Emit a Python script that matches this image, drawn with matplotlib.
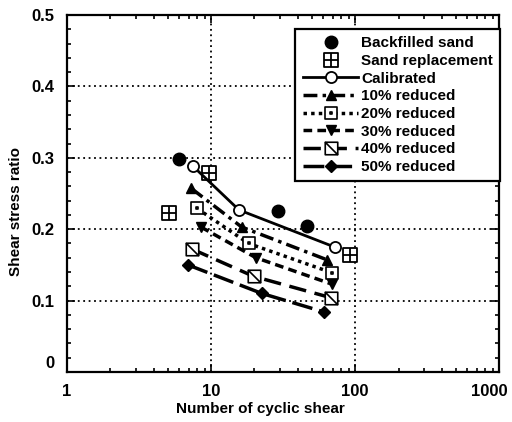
import numpy as np
import matplotlib
matplotlib.use("Agg")
import matplotlib.pyplot as plt
import matplotlib.transforms as mtransforms
from matplotlib.path import Path
from matplotlib.ticker import MultipleLocator, FixedLocator, NullFormatter

plt.rcParams['font.family'] = ['Liberation Sans', 'DejaVu Sans']
plt.rcParams['font.weight'] = 'bold'
plt.rcParams['axes.labelweight'] = 'bold'

# measured data
backfilled_x = [6.0, 29.0, 46.0]
backfilled_y = [0.298, 0.226, 0.205]
replacement_x = [5.1, 9.6, 92.0]
replacement_y = [0.223, 0.278, 0.164]

cal_x = [7.5, 15.6, 72.0]
cal_y = [0.288, 0.227, 0.175]
r10_x = [7.3, 16.3, 64.0]
r10_y = [0.257, 0.203, 0.157]
r20_x = [8.0, 18.2, 69.0]
r20_y = [0.229, 0.180, 0.139]
r30_x = [8.5, 20.5, 69.0]
r30_y = [0.203, 0.160, 0.123]
r40_x = [7.4, 19.7, 68.0]
r40_y = [0.172, 0.134, 0.104]
r50_x = [6.9, 22.5, 61.0]
r50_y = [0.150, 0.110, 0.084]

labels = ["Backfilled sand", "Sand replacement", "Calibrated", "10% reduced",
          "20% reduced", "30% reduced", "40% reduced", "50% reduced"]
xtick_vals = [1, 10, 100, 1000]
xtick_labels = ['1', '10', '100', '1000']
ytick_vals = [0, 0.1, 0.2, 0.3, 0.4, 0.5]
ytick_labels = ['0', '0.1', '0.2', '0.3', '0.4', '0.5']

# custom box markers
sq = [(-1, -1), (1, -1), (1, 1), (-1, 1), (-1, -1)]
sq_codes = [Path.MOVETO] + [Path.LINETO] * 3 + [Path.CLOSEPOLY]
box_plus = Path(sq + [(0, -1), (0, 1), (-1, 0), (1, 0)],
                sq_codes + [Path.MOVETO, Path.LINETO, Path.MOVETO, Path.LINETO])
box_slash = Path(sq + [(-1, 1), (1, -1)], sq_codes + [Path.MOVETO, Path.LINETO])
box_dot = Path(sq + [(-0.12, -0.12), (0.12, -0.12), (0.12, 0.12), (-0.12, 0.12), (-0.12, -0.12)],
               sq_codes + sq_codes)

fig = plt.figure(figsize=(5.12, 4.22), dpi=100)
ax = fig.add_axes([0.131, 0.1185, 0.844, 0.846])

ax.plot(backfilled_x, backfilled_y, 'o', color='black', ms=9, ls='none', label=labels[0])
ax.plot(replacement_x, replacement_y, marker=box_plus, ms=10, mfc='white', mec='black',
        mew=1.3, ls='none', label=labels[1])
ax.plot(cal_x, cal_y, '-', marker='o', color='black', ms=8, mfc='white', mew=1.3, lw=2,
        label=labels[2])
ax.plot(r10_x, r10_y, color='black', lw=2.5, ls=(0, (4, 1.5, 1, 1.5)), marker='^', ms=7,
        label=labels[3])
ax.plot(r20_x, r20_y, color='black', lw=2.5, ls=(0, (1, 1.2)), marker=box_dot, ms=9,
        mfc='white', mew=1.2, label=labels[4])
ax.plot(r30_x, r30_y, color='black', lw=2.5, ls=(0, (2.5, 1.5)), marker='v', ms=7,
        label=labels[5])
ax.plot(r40_x, r40_y, color='black', lw=2.5, ls=(0, (5, 2.5)), marker=box_slash, ms=9,
        mfc='white', mew=1.2, label=labels[6])
ax.plot(r50_x, r50_y, color='black', lw=2.5, ls=(0, (6, 2)), marker='D', ms=6,
        label=labels[7])

ax.set_xscale('log')
ax.set_xlim(1, 1000)
ax.set_ylim(0, 0.5)
ax.set_xticks(xtick_vals)
ax.set_xticklabels(xtick_labels)
ax.set_yticks(ytick_vals)
ax.set_yticklabels(ytick_labels)
ax.yaxis.set_minor_locator(MultipleLocator(0.02))
ax.xaxis.set_minor_locator(FixedLocator([m * 10 ** d for d in range(3) for m in range(2, 10)]))
ax.xaxis.set_minor_formatter(NullFormatter())
ax.tick_params(which='both', direction='in', top=True, right=True, labelsize=12, width=1.2)
ax.tick_params(which='major', length=6)
ax.tick_params(axis='x', which='major', pad=9)
ax.tick_params(axis='y', which='major', pad=9)
ax.tick_params(which='minor', length=3)
ax.grid(True, which='major', ls=(0, (1, 2)), color='black', lw=1.3)
for s in ax.spines.values():
    s.set_linewidth(1.6)

# small shifts like the original: "0" raised, "1000" kept inside
ax.get_yticklabels()[0].set_transform(
    ax.get_yticklabels()[0].get_transform() + mtransforms.ScaledTranslation(0, 0.1, fig.dpi_scale_trans))
ax.get_xticklabels()[-1].set_transform(
    ax.get_xticklabels()[-1].get_transform() + mtransforms.ScaledTranslation(-0.1, 0, fig.dpi_scale_trans))

ax.set_xlabel("Number of cyclic shear", fontsize=11)
ax.set_ylabel("Shear stress ratio", fontsize=11)
ax.xaxis.set_label_coords(0.447, -0.085)
ax.yaxis.set_label_coords(-0.102, 0.45)

leg = ax.legend(loc='upper right', bbox_to_anchor=(1.003, 0.962), fontsize=11, frameon=True,
                fancybox=False, edgecolor='black', framealpha=1, borderpad=0.5,
                labelspacing=0.24, handlelength=3.6, handletextpad=0.2, borderaxespad=0)
leg.get_frame().set_linewidth(1.6)

fig.savefig("out.png", dpi=100)
